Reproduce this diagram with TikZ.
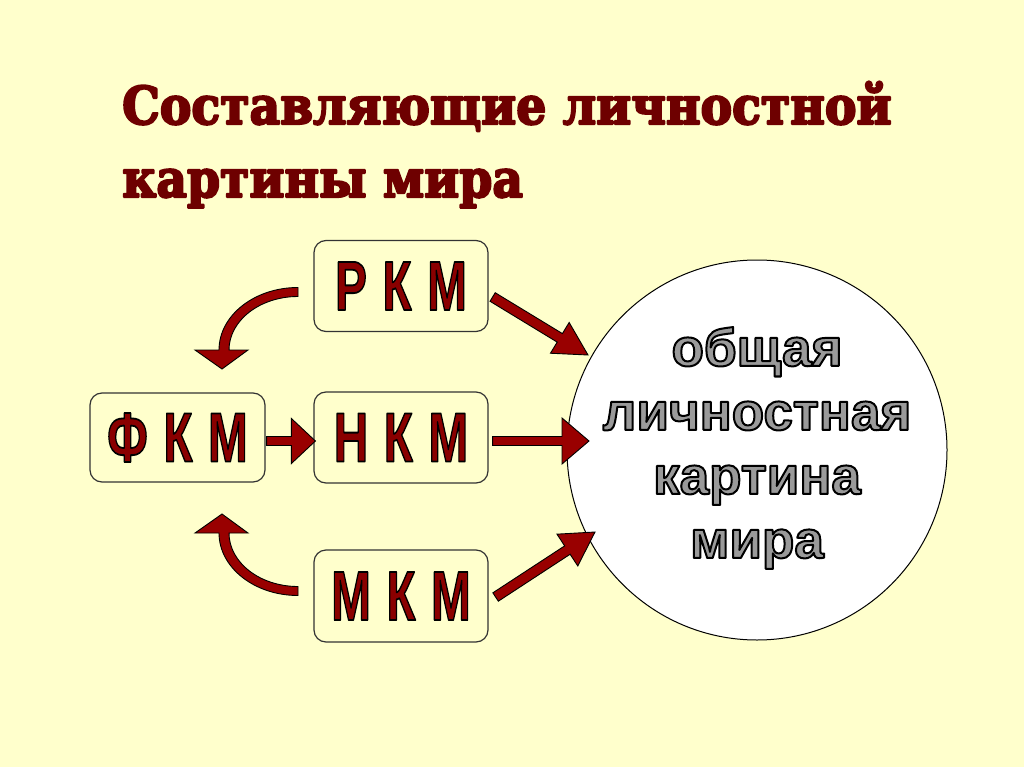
\documentclass[tikz,border=0pt]{standalone}
\usepackage{fontspec}
\setmainfont{DejaVu Serif}
\newfontfamily\sansbold{Liberation Sans}[BoldFont={* Bold}]
\usetikzlibrary{calc}
\definecolor{bg}{HTML}{FFFFCC}
\definecolor{titlered}{HTML}{6E0000}
\definecolor{boxred}{HTML}{8A0000}
\definecolor{arrowred}{HTML}{990000}
\definecolor{circgray}{HTML}{9A9A9A}
\tikzset{
  kbox/.style={draw=black!80, line width=1.2pt, rounded corners=12pt, fill=bg,
    minimum width=174pt, minimum height=91pt, inner sep=0pt},
  blockarrow/.style={fill=arrowred, draw=black, line width=0.9pt, line join=miter},
  titletext/.style={anchor=base west, inner sep=0pt, text=titlered,
    font=\bfseries\fontsize{52}{52}\selectfont},
  circtext/.style={align=center, inner sep=0pt,
    font=\sansbold\bfseries\fontsize{53}{64}\selectfont},
}
% #1 fill colour, #2 stroke rgb, #3 stroke width, #4 text
\newcommand\outlined[4]{{\color{#1}\special{pdf:literal direct #2 RG #3 w 1 j 2 Tr}#4\special{pdf:literal direct 0 Tr}}}
\newcommand\titleline[1]{\scalebox{0.91}[1]{\outlined{titlered}{0.431 0 0}{2.2}{#1}}}
\newcommand\gap{\hspace{23pt}}
\newcommand\boxlabel[1]{\scalebox{0.68}[1]{\outlined{boxred}{0 0 0}{1.8}{\sansbold\bfseries\fontsize{70}{70}\selectfont #1}}}
\newcommand\circline[1]{\outlined{circgray}{0 0 0}{2}{#1}}
\newcommand\blockarr[5]{%
  \path ($(#2)!#5!(#1)$) coordinate (tmpC);
  \draw[blockarrow] ($(#1)!#3!90:(#2)$) -- ($(tmpC)!#3!90:(#2)$) -- ($(tmpC)!#4!90:(#2)$)
    -- (#2) -- ($(tmpC)!#4!-90:(#2)$) -- ($(tmpC)!#3!-90:(#2)$) -- ($(#1)!#3!-90:(#2)$) -- cycle;
}
\begin{document}
\begin{tikzpicture}[x=1pt,y=-1pt]
\fill[bg] (0,0) rectangle (1024,767);
\useasboundingbox (0,0) rectangle (1024,767);

% title
\node[titletext] (title1) at (122,124) {\titleline{Составляющие личностной}};
\node[titletext] (title2) at (122,197) {\titleline{картины мира}};

% boxes
\node[kbox] (rkm) at (401,286) {\boxlabel{Р\gap К\gap М}};
\node[kbox, minimum width=175pt, minimum height=89pt] (fkm) at (177.5,437.5) {\boxlabel{Ф\gap К\gap М}};
\node[kbox] (nkm) at (401,437.5) {\boxlabel{Н\gap К\gap М}};
\node[kbox, minimum height=92pt] (mkm) at (401,596) {\boxlabel{М\gap К\gap М}};

% circle
\node[circle, draw=black, line width=1pt, fill=white, minimum size=380pt, inner sep=0pt] (circ) at (757,450) {};
\node[circtext] (ctext) at (757,448) {\circline{общая}\\\circline{личностная}\\\circline{картина}\\\circline{мира}};

% straight arrows
\coordinate (a1s) at ($(rkm.east)+(4,11)$);
\coordinate (a1t) at (588,355);
\blockarr{a1s}{a1t}{5pt}{18pt}{33pt}
\coordinate (a2s) at ($(nkm.east)+(4,3.5)$);
\coordinate (a2t) at (589,441);
\blockarr{a2s}{a2t}{4.5pt}{23pt}{27pt}
\coordinate (a3s) at ($(mkm.east)+(7,1)$);
\coordinate (a3t) at (595,532);
\blockarr{a3s}{a3t}{5pt}{19pt}{33pt}
\coordinate (a4s) at ($(fkm.east)+(1,3.5)$);
\coordinate (a4t) at ($(nkm.west)+(2,3.5)$);
\blockarr{a4s}{a4t}{4.5pt}{22.5pt}{24pt}

% curved arrows
\draw[blockarrow] (298,287.5) .. controls (254.4,287.5) and (219,315.5) .. (219,350)
  -- (195,350) -- (222,369) -- (248,350) -- (229,350)
  .. controls (229,320.5) and (259.9,296.5) .. (298,296.5) -- cycle;
\draw[blockarrow] (298,595.5) .. controls (254.4,595.5) and (219,567.5) .. (219,533)
  -- (195,533) -- (222,514) -- (248,533) -- (229,533)
  .. controls (229,562.5) and (259.9,586.5) .. (298,586.5) -- cycle;
\end{tikzpicture}
\end{document}
